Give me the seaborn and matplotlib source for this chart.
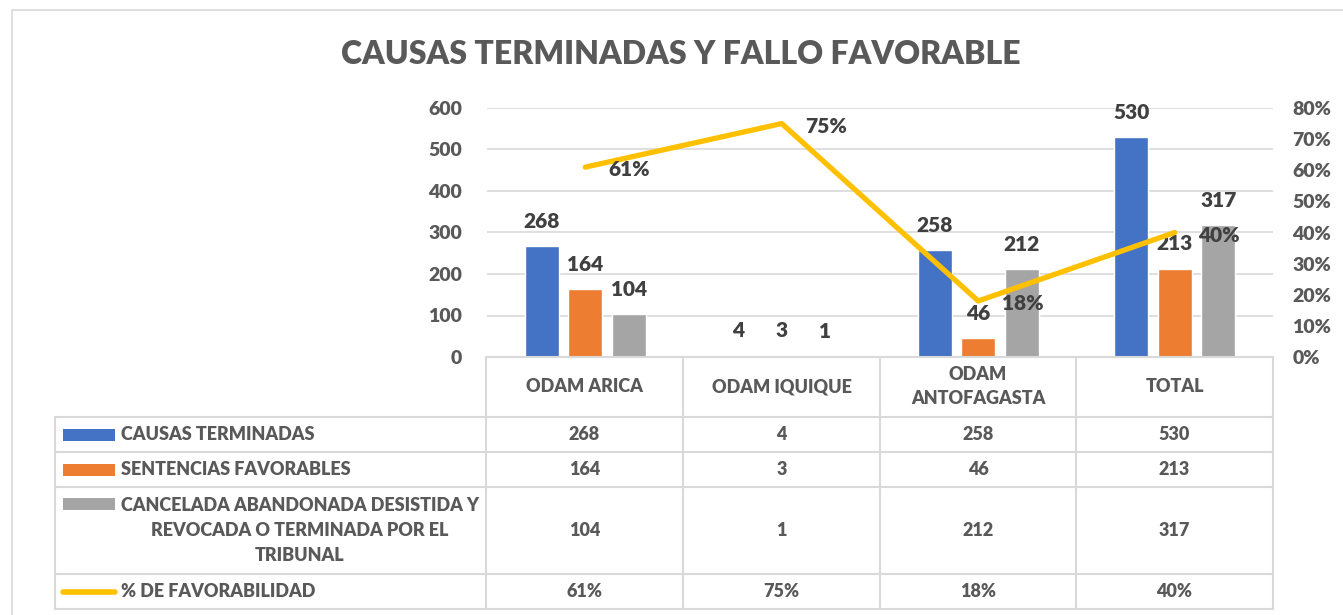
import numpy as np
import pandas as pd
import seaborn as sns
import matplotlib.pyplot as plt
from matplotlib import font_manager
from matplotlib.lines import Line2D
from matplotlib.patches import Rectangle
from matplotlib.ticker import PercentFormatter

# data
categorias = ["ODAM ARICA", "ODAM IQUIQUE", "ODAM ANTOFAGASTA", "TOTAL"]
cat_labels = ["ODAM ARICA", "ODAM IQUIQUE", "ODAM\nANTOFAGASTA", "TOTAL"]
causas_terminadas = [268, 4, 258, 530]
sentencias_favorables = [164, 3, 46, 213]
cancelada_otras = [104, 1, 212, 317]
pct_favorabilidad = [0.61, 0.75, 0.18, 0.40]

series = ["CAUSAS TERMINADAS", "SENTENCIAS FAVORABLES",
          "CANCELADA ABANDONADA DESISTIDA Y\nREVOCADA O TERMINADA POR EL\nTRIBUNAL"]
line_name = "% DE FAVORABILIDAD"
colores = ["#4472C4", "#ED7D31", "#A5A5A5"]
amarillo = "#FFC000"

df = pd.DataFrame({
    "cat": categorias * 3,
    "serie": [series[0]] * 4 + [series[1]] * 4 + [series[2]] * 4,
    "valor": causas_terminadas + sentencias_favorables + cancelada_otras,
})

sns.set_theme(style="white")
plt.rcParams["font.family"] = ["Lato", "DejaVu Sans"]
WT = "heavy"
plt.rcParams["font.weight"] = WT

W, H = 1343, 615
fig = plt.figure(figsize=(W / 100, H / 100), dpi=100)


def fx(px):
    return px / W


def fy(py):
    return 1 - py / H


ax = fig.add_axes([fx(487), fy(357), fx(1273) - fx(487), fy(108) - fy(357)])
sns.barplot(data=df, x="cat", y="valor", hue="serie", order=categorias,
            hue_order=series, palette=colores, width=0.667, gap=0.22,
            saturation=1, legend=False, ax=ax)
ax.set_xlim(-0.5, 3.5)
ax.set_ylim(0, 600)
ax.set_yticks(range(0, 601, 100))
ax.set_xlabel("")
ax.set_ylabel("")
ax.set_xticks([])
ax.yaxis.grid(True, color="#D9D9D9", linewidth=1.2)
ax.set_axisbelow(True)
for s in ax.spines.values():
    s.set_visible(False)
ax.tick_params(axis="y", length=0, pad=18, labelsize=14, labelcolor="#595959")
for c in ax.containers:
    ax.bar_label(c, padding=11, fontsize=15, color="#404040", fontweight=WT)

ax2 = ax.twinx()
sns.lineplot(x=np.arange(len(categorias)), y=pct_favorabilidad, color=amarillo,
             linewidth=3.8, ax=ax2)
ax2.set_ylim(0, 0.8)
ax2.set_yticks(np.arange(0, 0.81, 0.1))
ax2.yaxis.set_major_formatter(PercentFormatter(1, decimals=0))
for s in ax2.spines.values():
    s.set_visible(False)
ax2.tick_params(axis="y", length=0, pad=14, labelsize=14, labelcolor="#595959")
for i, v in enumerate(pct_favorabilidad):
    ax2.annotate(f"{v:.0%}", (i, v), xytext=(17, -2), textcoords="offset points",
                 ha="left", va="center", fontsize=15, color="#404040",
                 fontweight=WT)

# title
fig.text(fx(681), fy(55), "CAUSAS TERMINADAS Y FALLO FAVORABLE", ha="center",
         va="center", fontsize=23, color="#595959", fontweight=WT)

# outer chart border
fig.add_artist(Rectangle((fx(12), fy(700)), 1.2, fy(10) - fy(700),
                         transform=fig.transFigure, fill=False,
                         edgecolor="#D9D9D9", linewidth=1.2))

# data table
grid_c = "#D9D9D9"
col_x = [55, 486, 683, 880, 1076, 1273]
row_y = [357, 417, 452, 487, 574, 609]


def hline(y, x0, x1):
    fig.add_artist(Line2D([fx(x0), fx(x1)], [fy(y), fy(y)], color=grid_c,
                          linewidth=1.5, transform=fig.transFigure))


def vline(x, y0, y1):
    fig.add_artist(Line2D([fx(x), fx(x)], [fy(y0), fy(y1)], color=grid_c,
                          linewidth=1.5, transform=fig.transFigure))


hline(row_y[0], col_x[1], col_x[-1])
for y in row_y[1:]:
    hline(y, col_x[0], col_x[-1])
vline(col_x[0], row_y[1], row_y[-1])
for x in col_x[1:]:
    vline(x, row_y[0], row_y[-1])

txt_c = "#595959"
for j, lab in enumerate(cat_labels):
    xc = (col_x[j + 1] + col_x[j + 2]) / 2
    yc = (row_y[0] + row_y[1]) / 2
    fig.text(fx(xc), fy(yc), lab, ha="center", va="center", fontsize=13,
             color=txt_c, fontweight=WT, linespacing=1.5)

rows = [causas_terminadas, sentencias_favorables, cancelada_otras,
        [f"{v:.0%}" for v in pct_favorabilidad]]
for r, vals in enumerate(rows):
    yc = (row_y[r + 1] + row_y[r + 2]) / 2
    for j, v in enumerate(vals):
        xc = (col_x[j + 1] + col_x[j + 2]) / 2
        fig.text(fx(xc), fy(yc), str(v), ha="center", va="center", fontsize=13,
                 color=txt_c, fontweight=WT)

# legend keys inside the table
for r in range(3):
    yc = (row_y[r + 1] + row_y[r + 2]) / 2
    if r == 2:
        key_y = 504
        fig.text(fx(300), fy(yc), series[r], ha="center", va="center",
                 fontsize=13, color=txt_c, fontweight=WT, linespacing=1.55)
    else:
        key_y = yc
        fig.text(fx(121), fy(yc), series[r], ha="left", va="center",
                 fontsize=13, color=txt_c, fontweight=WT)
    fig.add_artist(Rectangle((fx(63), fy(key_y + 6)), fx(115) - fx(63),
                             fy(key_y - 6) - fy(key_y + 6),
                             transform=fig.transFigure, facecolor=colores[r],
                             edgecolor="none"))
yc = (row_y[4] + row_y[5]) / 2
fig.add_artist(Line2D([fx(63), fx(115)], [fy(yc), fy(yc)], color=amarillo,
                      linewidth=4, solid_capstyle="round",
                      transform=fig.transFigure))
fig.text(fx(121), fy(yc), line_name, ha="left", va="center", fontsize=13,
         color=txt_c, fontweight=WT)

fig.savefig("out.png", dpi=100, facecolor="white")
